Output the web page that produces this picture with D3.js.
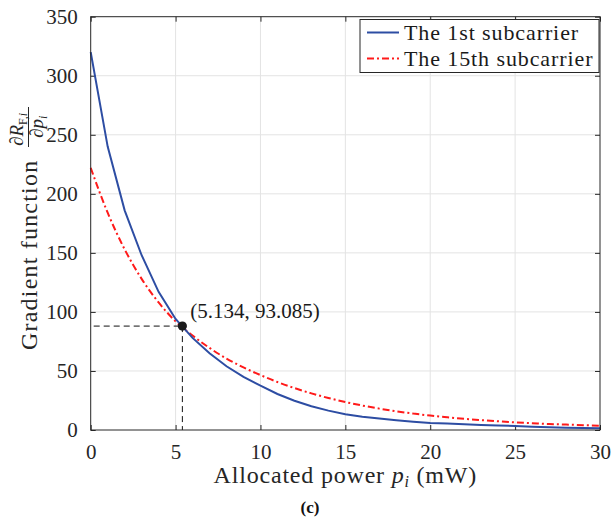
<!DOCTYPE html>
<html>
<head>
<meta charset="utf-8">
<script src="https://cdn.jsdelivr.net/npm/d3@7"></script>
<style>
  body { margin: 0; background: #fff; }
  svg { display: block; }
  svg text { font-family: "Liberation Serif", "Times New Roman", Times, "DejaVu Serif", serif; }
</style>
</head>
<body>
<div id="chart"></div>
<script>
// allocated power (mW), sampled at each integer
const power = d3.range(0, 31);
// 1st subcarrier gradient
const sub1 = [320, 240, 186, 148, 117, 94, 78, 65, 54, 45, 37.5,
              30.5, 24.8, 20.1, 16.4, 13.3, 11.3, 9.7, 8.2, 7.0, 6.0,
              5.4, 4.8, 4.3, 3.8, 3.4, 2.8, 2.4, 2.0, 1.7, 1.4];
// 15th subcarrier gradient
const sub15 = [222, 184, 153, 128, 108, 92, 80, 69.5, 60.5, 53, 46.5,
               40.6, 35.5, 31, 27.1, 23.7, 20.7, 18.1, 15.8, 13.9, 12.2,
               10.8, 9.5, 8.4, 7.4, 6.5, 5.8, 5.1, 4.6, 4.1, 3.6];
const xTicks = [0, 5, 10, 15, 20, 25, 30];
const yTicks = [0, 50, 100, 150, 200, 250, 300, 350];
const crossing = [5.4, 88];
const crossingLabel = "(5.134, 93.085)";
const seriesNames = ["The 1st subcarrier", "The 15th subcarrier"];

const width = 613, height = 521;
const margin = { left: 90.7, right: 13, top: 16.7, bottom: 91 };
const axisColor = "#262626";
const serif = '"Liberation Serif", "Times New Roman", Times, "DejaVu Serif", serif';

const svg = d3.select("#chart").append("svg")
    .attr("width", width)
    .attr("height", height)
    .style("font-family", serif);

const x = d3.scaleLinear().domain([0, 30]).range([margin.left, width - margin.right]);
const y = d3.scaleLinear().domain([0, 350]).range([height - margin.bottom, margin.top]);

// grid
svg.append("g").selectAll("line").data(xTicks.slice(1, -1)).join("line")
    .attr("x1", d => x(d)).attr("x2", d => x(d))
    .attr("y1", y(0)).attr("y2", y(350))
    .attr("stroke", "#e3e3e3").attr("stroke-width", 1);
svg.append("g").selectAll("line").data(yTicks.slice(1, -1)).join("line")
    .attr("x1", x(0)).attr("x2", x(30))
    .attr("y1", d => y(d)).attr("y2", d => y(d))
    .attr("stroke", "#e3e3e3").attr("stroke-width", 1);

// axes, ticks pointing inward, box all round
const tickStyle = g => {
    g.attr("font-family", null).attr("font-size", null);
    g.select(".domain").remove();
    g.selectAll(".tick line").attr("stroke", axisColor);
    g.selectAll(".tick text")
        .attr("fill", axisColor)
        .style("font-family", serif)
        .style("font-size", "21px");
};
svg.append("g")
    .attr("transform", `translate(0,${y(0)})`)
    .call(d3.axisBottom(x).tickValues(xTicks).tickSizeInner(-5).tickSizeOuter(0).tickPadding(14))
    .call(tickStyle);
svg.append("g")
    .attr("transform", `translate(0,${y(350)})`)
    .call(d3.axisTop(x).tickValues(xTicks).tickSizeInner(-5).tickSizeOuter(0).tickFormat(""))
    .call(tickStyle);
svg.append("g")
    .attr("transform", `translate(${x(0)},0)`)
    .call(d3.axisLeft(y).tickValues(yTicks).tickSizeInner(-5).tickSizeOuter(0).tickPadding(13))
    .call(tickStyle);
svg.append("g")
    .attr("transform", `translate(${x(30)},0)`)
    .call(d3.axisRight(y).tickValues(yTicks).tickSizeInner(-5).tickSizeOuter(0).tickFormat(""))
    .call(tickStyle);

// curves
const line1 = d3.line().x((d, i) => x(power[i])).y(d => y(d));
const line15 = d3.line().x((d, i) => x(power[i])).y(d => y(d)).curve(d3.curveMonotoneX);

svg.append("path")
    .datum(sub15)
    .attr("d", line15)
    .attr("fill", "none")
    .attr("stroke", "#ff1a1a")
    .attr("stroke-width", 2)
    .attr("stroke-dasharray", "7,3,2,3");

svg.append("path")
    .datum(sub1)
    .attr("d", line1)
    .attr("fill", "none")
    .attr("stroke", "#2d4da3")
    .attr("stroke-width", 2);

// crossing point with dashed guides
svg.append("line")
    .attr("x1", x(0) + 3).attr("x2", x(crossing[0]))
    .attr("y1", y(crossing[1])).attr("y2", y(crossing[1]))
    .attr("stroke", "#111").attr("stroke-width", 1)
    .attr("stroke-dasharray", "6,4");
svg.append("line")
    .attr("x1", x(crossing[0])).attr("x2", x(crossing[0]))
    .attr("y1", y(crossing[1])).attr("y2", y(0))
    .attr("stroke", "#111").attr("stroke-width", 1)
    .attr("stroke-dasharray", "6,4");
svg.append("circle")
    .attr("cx", x(crossing[0])).attr("cy", y(crossing[1]))
    .attr("r", 4.6)
    .attr("fill", "#1a1a1a");
svg.append("text")
    .attr("x", x(crossing[0]) + 8)
    .attr("y", y(crossing[1]) - 8)
    .attr("fill", "#1a1a1a")
    .style("font-size", "21px")
    .text(crossingLabel);

// box border on top of everything
svg.append("rect")
    .attr("x", x(0)).attr("y", y(350))
    .attr("width", x(30) - x(0)).attr("height", y(0) - y(350))
    .attr("fill", "none").attr("stroke", axisColor).attr("stroke-width", 1);

// legend
const legend = svg.append("g").attr("transform", "translate(360,19.5)");
legend.append("rect")
    .attr("width", 239).attr("height", 53)
    .attr("fill", "#fff").attr("stroke", axisColor).attr("stroke-width", 1);
const legendRows = legend.selectAll(".row").data(seriesNames).join("g")
    .attr("class", "row")
    .attr("transform", (d, i) => `translate(0,${13 + i * 26})`);
legendRows.append("line")
    .attr("x1", 7).attr("x2", 39)
    .attr("stroke", (d, i) => i === 0 ? "#2d4da3" : "#ff1a1a")
    .attr("stroke-width", 2)
    .attr("stroke-dasharray", (d, i) => i === 0 ? null : "7,3,2,3");
legendRows.append("text")
    .attr("x", 44).attr("y", 7)
    .attr("fill", "#1a1a1a")
    .style("font-size", "22px")
    .style("letter-spacing", "0.9px")
    .text(d => d);

// x label
const xLabel = svg.append("text")
    .attr("x", (x(0) + x(30)) / 2)
    .attr("y", 483)
    .attr("text-anchor", "middle")
    .attr("fill", axisColor)
    .style("font-size", "24px")
    .style("letter-spacing", "0.8px");
xLabel.append("tspan").text("Allocated power ");
xLabel.append("tspan").style("font-style", "italic").text("p");
xLabel.append("tspan").style("font-style", "italic").style("font-size", "16px").attr("dy", 4).text("i");
xLabel.append("tspan").attr("dy", -4).text(" (mW)");

// y label, rotated, with fraction
const yl = svg.append("g").attr("transform", "translate(37,350) rotate(-90)");
yl.append("text")
    .attr("x", 0).attr("y", 0)
    .attr("fill", axisColor)
    .style("font-size", "24px")
    .style("letter-spacing", "1.2px")
    .text("Gradient function");
const fracX = 203;
yl.append("line")
    .attr("x1", fracX).attr("x2", fracX + 40)
    .attr("y1", -8.5).attr("y2", -8.5)
    .attr("stroke", axisColor).attr("stroke-width", 1);
const num = yl.append("text")
    .attr("x", fracX + 1).attr("y", -14)
    .attr("fill", axisColor)
    .style("font-size", "19px");
num.append("tspan").text("∂");
num.append("tspan").style("font-style", "italic").text("R");
num.append("tspan").style("font-size", "12px").attr("dy", 4).text("F,");
num.append("tspan").style("font-size", "12px").style("font-style", "italic").text("i");
const den = yl.append("text")
    .attr("x", fracX + 9).attr("y", 6)
    .attr("fill", axisColor)
    .style("font-size", "19px");
den.append("tspan").text("∂");
den.append("tspan").style("font-style", "italic").text("p");
den.append("tspan").style("font-size", "12px").style("font-style", "italic").attr("dy", 4).text("i");

// caption
svg.append("text")
    .attr("x", 310).attr("y", 513)
    .attr("text-anchor", "middle")
    .attr("fill", "#111")
    .style("font-size", "17px")
    .style("font-weight", "bold")
    .text("(c)");
</script>
</body>
</html>
